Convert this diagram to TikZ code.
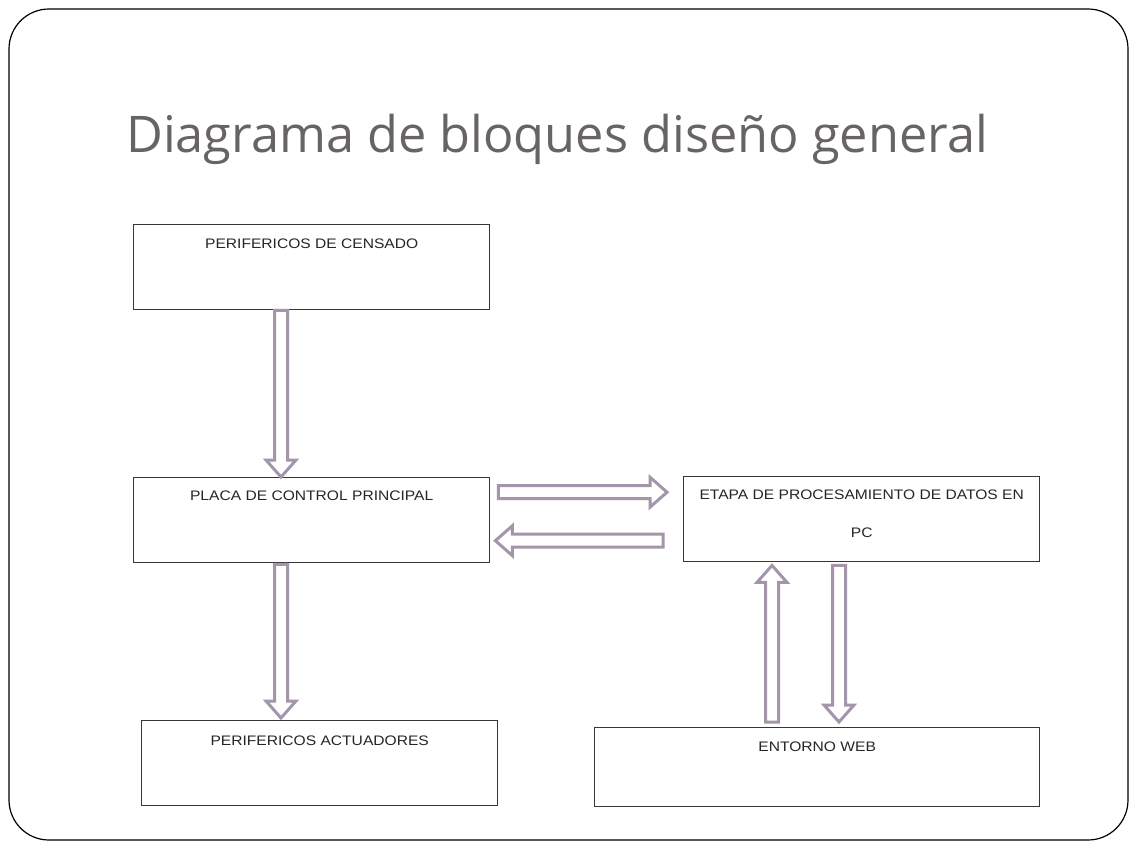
\documentclass[tikz,border=0pt]{standalone}
\usepackage{fontspec}
\setmainfont{Liberation Sans}[FakeStretch=1.13]
\newfontfamily\titlefont{Open Sans}
\usetikzlibrary{calc}
\definecolor{titlegray}{RGB}{104,99,101}
\definecolor{arrowc}{RGB}{164,150,170}
\definecolor{boxc}{RGB}{55,55,55}
\tikzset{
  blockbox/.style={draw=boxc, line width=1.4pt, rectangle, inner sep=0pt},
  boxtext/.style={font=\fontsize{13.8}{16}\selectfont, text=black!85, inner sep=0pt, anchor=base},
  barrow/.style={draw=arrowc, line width=3pt, fill=white, line join=miter},
}
% block arrow from #1 to #2 (tip at #2)
\newcommand\blockarrow[2]{%
  \draw[barrow] let \p1=(#1), \p2=(#2),
    \n1={atan2(\y2-\y1,\x2-\x1)},
    \n2={veclen(\x2-\x1,\y2-\y1)-17}
  in (#1) ++(\n1+90:6.5pt) -- ++(\n1:\n2) -- ++(\n1+90:8.5pt) -- (#2)
     -- ($(#2)+(\n1+180:17pt)+(\n1-90:15pt)$) -- ++(\n1+90:8.5pt)
     -- ++(\n1+180:\n2) -- cycle;
}
\begin{document}
\begin{tikzpicture}[x=1pt,y=-1pt]
\useasboundingbox (0,0) rectangle (1136,852);
\fill[white] (0,0) rectangle (1136,852);
% slide frame
\draw[black, line width=1.2pt, rounded corners=40pt] (9,9) rectangle (1128,840);
% title
\node[font=\titlefont\fontsize{50.5}{60}\selectfont, text=titlegray, anchor=base west, inner sep=0pt] (title) at (126,152) {Diagrama de bloques diseño general};
% boxes
\node[blockbox, minimum width=356pt, minimum height=85pt, anchor=north west] (b1) at (133,224) {};
\node[blockbox, minimum width=356pt, minimum height=85pt, anchor=north west] (b2) at (133,477) {};
\node[blockbox, minimum width=356pt, minimum height=85pt, anchor=north west] (b3) at (141,720) {};
\node[blockbox, minimum width=356pt, minimum height=85pt, anchor=north west] (b4) at (683,476) {};
\node[blockbox, minimum width=445pt, minimum height=79pt, anchor=north west] (b5) at (594,727) {};
% texts
\node[boxtext] (t1) at ($(b1.north)+(0,24)$) {PERIFERICOS DE CENSADO};
\node[boxtext] (t2) at ($(b2.north)+(0,23)$) {PLACA DE CONTROL PRINCIPAL};
\node[boxtext] (t3) at ($(b3.north)+(0,25)$) {PERIFERICOS ACTUADORES};
\node[boxtext] (t4) at ($(b4.north)+(0,23)$) {ETAPA DE PROCESAMIENTO DE DATOS EN};
\node[boxtext] (t4b) at ($(b4.north)+(0,61)$) {PC};
\node[boxtext] (t5) at ($(b5.north)+(0,24)$) {ENTORNO WEB};
% arrow end points
\coordinate (a1s) at ($(b1.south west)+(148,0)$);
\coordinate (a1e) at ($(b2.north west)+(148,0)$);
\coordinate (a2s) at ($(b2.south west)+(148,1)$);
\coordinate (a2e) at ($(b3.north west)+(140,-2)$);
\coordinate (a3s) at ($(b2.east)+(8,-28)$);
\coordinate (a3e) at ($(b4.west)+(-16,-27)$);
\coordinate (a4s) at ($(b4.west)+(-20,21.5)$);
\coordinate (a4e) at ($(b2.east)+(5,20.5)$);
\coordinate (a5s) at ($(b5.north west)+(178,-5)$);
\coordinate (a5e) at ($(b4.south west)+(89,3)$);
\coordinate (a6s) at ($(b4.south west)+(156,3)$);
\coordinate (a6e) at ($(b5.north west)+(245,-5)$);
\blockarrow{a1s}{a1e}
\blockarrow{a2s}{a2e}
\blockarrow{a3s}{a3e}
\blockarrow{a4s}{a4e}
\blockarrow{a5s}{a5e}
\blockarrow{a6s}{a6e}
\end{tikzpicture}
\end{document}
